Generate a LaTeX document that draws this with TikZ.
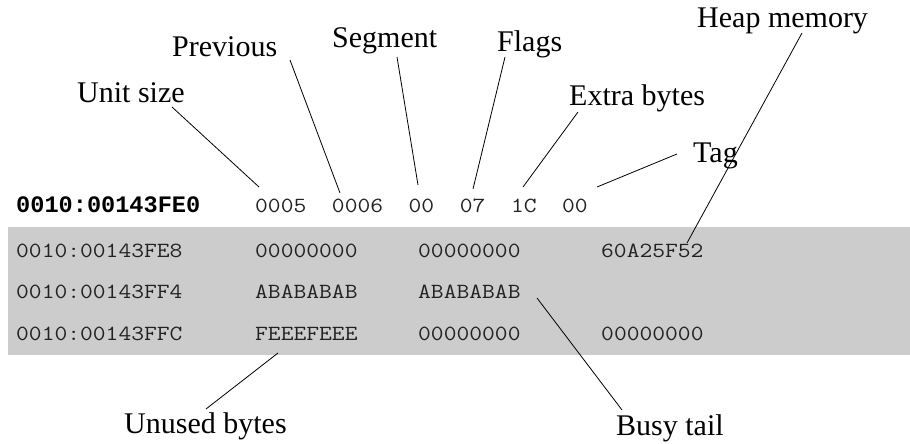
\documentclass[tikz,border=0pt]{standalone}
\usepackage{fontspec}
\setmainfont{Liberation Serif}
\newfontfamily\monof[FakeStretch=1.15]{Latin Modern Mono}
\newfontfamily\monobf{Liberation Mono}
\definecolor{band}{HTML}{CCCCCC}
\definecolor{ink}{HTML}{222222}
\begin{document}
\begin{tikzpicture}[x=1pt,y=-1pt,
  lbl/.style={anchor=base west,inner sep=0pt,font=\fontsize{30}{30}\selectfont},
  hex/.style={anchor=base west,inner sep=0pt,text=ink,font=\monof\fontsize{21.6}{22}\selectfont},
  hexb/.style={anchor=base west,inner sep=0pt,font=\monobf\bfseries\fontsize{23.6}{24}\selectfont},
  conn/.style={draw=black,line width=0.8pt}]
\useasboundingbox (0,0) rectangle (910,444);
\fill[band] (8,227) rectangle (910,355);
% labels
\node[lbl] (unit) at (77,102) {Unit size};
\node[lbl] (prev) at (172,57) {Previous};
\node[lbl] (seg) at (332,48) {Segment};
\node[lbl] (flags) at (497,52) {Flags};
\node[lbl] (extra) at (569,105) {Extra bytes};
\node[lbl] (tag) at (693,162) {Tag};
\node[lbl] (heap) at (697,28) {Heap memory};
\node[lbl] (unused) at (124,433) {Unused bytes};
\node[lbl] (busy) at (616,435) {Busy tail};
% row 0
\node[hexb] (a0) at (16,212) {0010:00143FE0};
\node[hex] (r0) at (255,212) {0005\ \ 0006\ \ 00\ \ 07\ \ 1C\ \ 00};
% row 1
\node[hex] (a1) at (16,257) {0010:00143FE8};
\node[hex] (b1) at (255,257) {00000000};
\node[hex] (c1) at (418,257) {00000000};
\node[hex] (d1) at (601,257) {60A25F52};
% row 2
\node[hex] (a2) at (16,298) {0010:00143FF4};
\node[hex] (b2) at (255,298) {ABABABAB};
\node[hex] (c2) at (418,298) {ABABABAB};
% row 3
\node[hex] (a3) at (16,340) {0010:00143FFC};
\node[hex] (b3) at (255,340) {FEEEFEEE};
\node[hex] (c3) at (418,340) {00000000};
\node[hex] (d3) at (601,340) {00000000};
% connector ends
\coordinate (unitE) at (172,107); \coordinate (unitV) at (259,187);
\coordinate (prevE) at (290,60);  \coordinate (prevV) at (340,193);
\coordinate (segE) at (397,57);   \coordinate (segV) at (418,185);
\coordinate (flagsE) at (505,57); \coordinate (flagsV) at (473,189);
\coordinate (extraE) at (578,112);\coordinate (extraV) at (523,187);
\coordinate (tagE) at (677,154);  \coordinate (tagV) at (597,187);
\coordinate (heapE) at (802,33);  \coordinate (heapV) at (687,243);
\coordinate (busyV) at (537,298); \coordinate (busyE) at (622,410);
\coordinate (unusedV) at (278,353); \coordinate (unusedE) at (206,409);
\draw[conn] (unitE) -- (unitV);
\draw[conn] (prevE) -- (prevV);
\draw[conn] (segE) -- (segV);
\draw[conn] (flagsE) -- (flagsV);
\draw[conn] (extraE) -- (extraV);
\draw[conn] (tagE) -- (tagV);
\draw[conn] (heapE) -- (heapV);
\draw[conn] (busyV) -- (busyE);
\draw[conn] (unusedV) -- (unusedE);
\end{tikzpicture}
\end{document}
